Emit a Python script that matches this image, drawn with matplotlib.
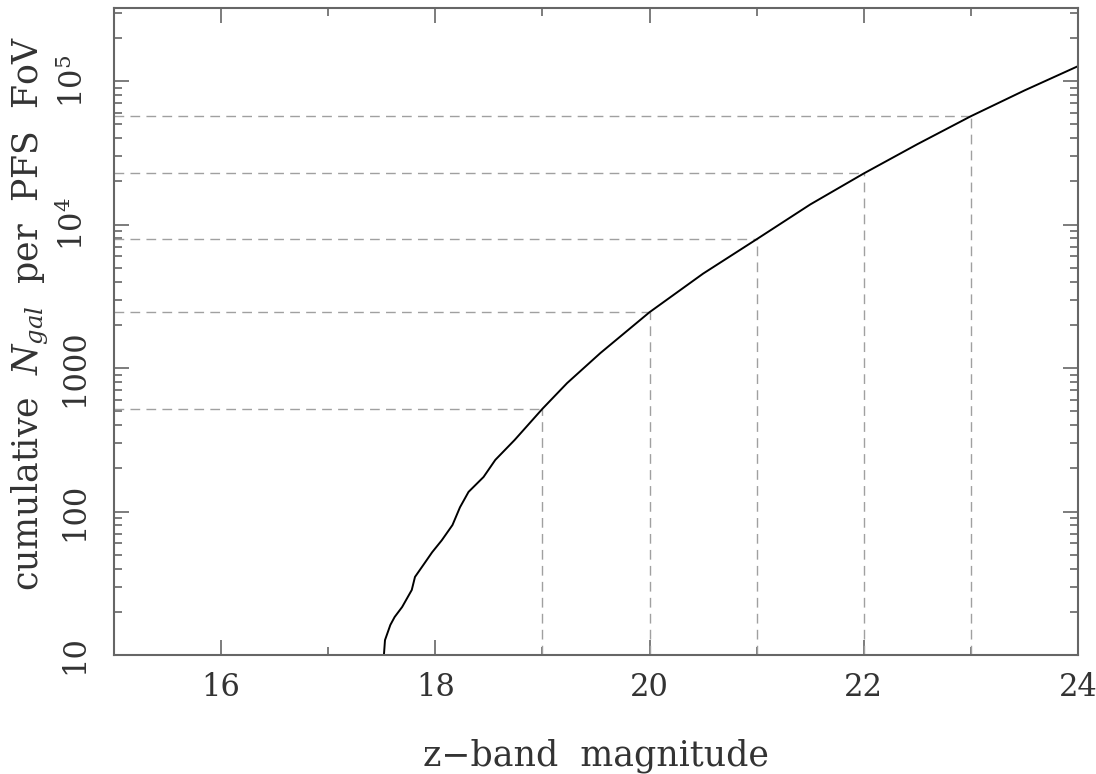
import matplotlib
matplotlib.use("Agg")
import matplotlib.pyplot as plt
from matplotlib.ticker import FixedLocator, LogLocator, NullFormatter, FixedFormatter

# Data
mag = [17.52, 17.53, 17.58, 17.62, 17.69, 17.78, 17.81, 17.90, 17.97, 18.06,
       18.16, 18.23, 18.31, 18.45, 18.56, 18.74, 19.00, 19.23, 19.54, 20.00,
       20.50, 21.00, 21.50, 22.00, 22.50, 23.00, 23.50, 24.00]
n_gal = [10, 12.7, 16.2, 18.4, 21.6, 28.4, 35, 43.7, 52, 63,
         80.5, 107, 137, 174, 229, 315, 520, 785, 1270, 2450,
         4550, 7900, 13800, 22700, 36300, 56900, 86000, 127000]

guide_mag = [19, 20, 21, 22, 23]
guide_n = [520, 2450, 7900, 22700, 56900]

x_ticks = [16, 18, 20, 22, 24]
y_ticks = [10, 100, 1000, 1e4, 1e5]
y_ticklabels = ["10", "100", "1000", r"10$^4$", r"10$^5$"]

plt.rcParams['font.family'] = ['DejaVu Serif']
plt.rcParams['mathtext.fontset'] = 'dejavuserif'

txt = '#333333'
axc = '#666666'

fig = plt.figure(figsize=(10.96, 7.74), dpi=100)
ax = fig.add_axes([114/1096, (774-655)/774, (1078-114)/1096, (655-8)/774])

ax.set_xlim(15, 24)
ax.set_yscale('log')
ax.set_ylim(10, 3.23e5)

# guide lines
for m, n in zip(guide_mag, guide_n):
    ax.plot([15, m], [n, n], color='#a0a0a0', lw=1.0, dashes=(7, 4.5))
    ax.plot([m, m], [10, n], color='#a0a0a0', lw=1.0, dashes=(7, 4.5))

ax.plot(mag, n_gal, color='black', lw=1.4)

for s in ax.spines.values():
    s.set_color(axc)
    s.set_linewidth(1.5)

ax.xaxis.set_major_locator(FixedLocator(x_ticks))
ax.xaxis.set_minor_locator(FixedLocator([15, 17, 19, 21, 23]))
ax.yaxis.set_major_locator(FixedLocator(y_ticks))
ax.yaxis.set_major_formatter(FixedFormatter(y_ticklabels))
ax.yaxis.set_minor_locator(LogLocator(base=10, subs=range(2, 10)))
ax.yaxis.set_minor_formatter(NullFormatter())

ax.tick_params(which='both', direction='in', top=True, right=True, color=axc, width=1.2,
               labelcolor=txt, labelsize=22)
ax.tick_params(which='major', length=11)
ax.tick_params(which='minor', length=5.5)
ax.tick_params(axis='x', pad=12)
ax.tick_params(axis='y', pad=17)
for lab in ax.get_yticklabels():
    lab.set_rotation(90)
    lab.set_va('center')

ax.set_xlabel("z\u2212band  magnitude", fontsize=25, color=txt)
ax.xaxis.set_label_coords(0.5, -0.155)
ax.xaxis.label.set_va('center')
ax.set_ylabel(r"cumulative  $N_{gal}$  per  PFS  FoV", fontsize=25, color=txt)
ax.yaxis.set_label_coords(-0.087, 0.528)
ax.yaxis.label.set_va('center')

fig.savefig("out.png", dpi=100)
